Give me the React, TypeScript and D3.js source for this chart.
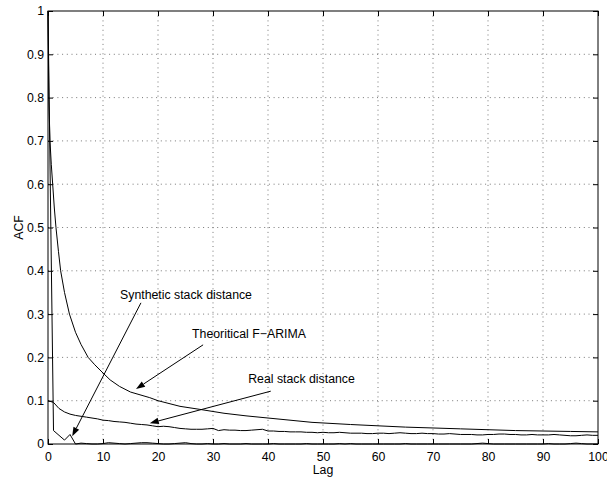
import * as d3 from "d3";
import React, { useEffect, useRef } from "react";

// lags 0..100
const lags = d3.range(0, 101);

// theoretical F-ARIMA ACF (smooth curve, read at these lags)
const theoLag = [0, 0.15, 0.36, 0.6, 0.85, 1.15, 1.45, 1.9, 2.3, 3, 3.9, 5, 6, 7.3, 8.5, 10, 11.3, 13, 15, 18.5, 20, 24, 27.6, 32, 36, 40, 44, 48, 55, 60, 65, 70, 75, 80, 85, 90, 95, 100];
const theoAcf = [1, 0.8, 0.7, 0.645, 0.6, 0.545, 0.5, 0.445, 0.4, 0.35, 0.3, 0.258, 0.23, 0.2, 0.183, 0.164, 0.148, 0.133, 0.12, 0.107, 0.1, 0.087, 0.08, 0.071, 0.065, 0.06, 0.055, 0.05, 0.045, 0.042, 0.039, 0.037, 0.035, 0.033, 0.031, 0.030, 0.029, 0.028];

// real stack distance ACF
const realAcf = [
  0.100, 0.096, 0.082, 0.074, 0.069, 0.066, 0.064, 0.062, 0.060, 0.058,
  0.055, 0.054, 0.052, 0.051, 0.050, 0.048, 0.046, 0.045, 0.044, 0.042,
  0.040, 0.041, 0.040, 0.038, 0.036, 0.035, 0.034, 0.034, 0.034, 0.035,
  0.036, 0.031, 0.033, 0.032, 0.032, 0.031, 0.031, 0.032, 0.033, 0.034,
  0.030, 0.030, 0.029, 0.029, 0.028, 0.028, 0.028, 0.027, 0.027, 0.026,
  0.027, 0.026, 0.026, 0.027, 0.026, 0.025, 0.025, 0.025, 0.024, 0.024,
  0.025, 0.025, 0.024, 0.025, 0.026, 0.025, 0.024, 0.024, 0.025, 0.024,
  0.024, 0.023, 0.023, 0.024, 0.023, 0.022, 0.022, 0.022, 0.021, 0.021,
  0.022, 0.022, 0.023, 0.023, 0.022, 0.022, 0.021, 0.021, 0.022, 0.021,
  0.021, 0.021, 0.022, 0.021, 0.020, 0.019, 0.019, 0.020, 0.021, 0.020,
  0.020,
];

// synthetic stack distance ACF
const synthAcf = [
  1.000, 0.031, 0.020, 0.009, 0.022, 0.000, 0.002, 0.001, 0.000, 0.000,
  0.001, 0.003, 0.002, 0.001, 0.000, 0.001, 0.002, 0.003, 0.003, 0.002,
  0.001, 0.000, 0.000, 0.001, 0.002, 0.003, 0.001, 0.000, 0.000, 0.001,
  0.000, 0.000, 0.001, 0.000, 0.000, 0.000, 0.001, 0.000, 0.000, 0.000,
  0.000, 0.001, 0.000, 0.000, 0.000, 0.000, 0.000, 0.001, 0.000, 0.000,
  0.000, 0.000, 0.000, 0.001, 0.000, 0.001, 0.000, 0.000, 0.000, 0.000,
  0.000, 0.000, 0.000, 0.000, 0.000, 0.001, 0.000, 0.000, 0.000, 0.000,
  0.000, 0.000, 0.000, 0.000, 0.000, 0.000, 0.000, 0.000, 0.001, 0.002,
  0.001, 0.000, 0.000, 0.000, 0.000, 0.000, 0.000, 0.000, 0.000, 0.000,
  0.000, 0.001, 0.000, 0.000, 0.000, 0.001, 0.002, 0.001, 0.000, 0.000,
  0.000,
];

const xTicks = [0, 10, 20, 30, 40, 50, 60, 70, 80, 90, 100];
const yTicks = [0, 0.1, 0.2, 0.3, 0.4, 0.5, 0.6, 0.7, 0.8, 0.9, 1];

// annotations: text, text anchor (lag, acf), arrow tail, arrow tip
const notes = [
  { text: "Synthetic stack distance", tx: 13.1, ty: 0.335, x0: 16.9, y0: 0.326, x1: 4.4, y1: 0.018 },
  { text: "Theoritical F\u2212ARIMA", tx: 26.2, ty: 0.245, x0: 28.2, y0: 0.229, x1: 16.0, y1: 0.127 },
  { text: "Real stack distance", tx: 36.4, ty: 0.141, x0: 40.5, y0: 0.122, x1: 18.5, y1: 0.048 },
];

const App = () => {
  const ref = useRef<SVGSVGElement>(null);

  useEffect(() => {
    const svg = d3.select(ref.current);
    svg.selectAll("*").remove();

    const width = 607;
    const height = 477;
    const margin = { top: 11, right: 9, bottom: 33, left: 48 };
    const innerWidth = width - margin.left - margin.right;
    const innerHeight = height - margin.top - margin.bottom;
    const font = "'Liberation Sans', Arial, Helvetica, sans-serif";
    const fs = 12.3;

    const x = d3.scaleLinear().domain([0, 100]).range([0, innerWidth]);
    const y = d3.scaleLinear().domain([0, 1]).range([innerHeight, 0]);

    const g = svg.append("g").attr("transform", `translate(${margin.left},${margin.top})`);

    // dotted grid
    g.selectAll(".gx")
      .data(xTicks.slice(1, -1))
      .enter()
      .append("line")
      .attr("x1", (d) => x(d))
      .attr("x2", (d) => x(d))
      .attr("y1", 0)
      .attr("y2", innerHeight)
      .attr("stroke", "#555")
      .attr("stroke-width", 0.8)
      .attr("stroke-dasharray", "1,3.7");
    g.selectAll(".gy")
      .data(yTicks.slice(1, -1))
      .enter()
      .append("line")
      .attr("x1", 0)
      .attr("x2", innerWidth)
      .attr("y1", (d) => y(d))
      .attr("y2", (d) => y(d))
      .attr("stroke", "#555")
      .attr("stroke-width", 0.8)
      .attr("stroke-dasharray", "1,3.7");

    // axes with inward ticks
    const tickStyle = (sel: any) => {
      sel.select(".domain").remove();
      sel.selectAll("text").attr("font-family", font).attr("font-size", fs).attr("fill", "#000");
      sel.selectAll("line").attr("stroke", "#000");
    };
    g.append("g")
      .attr("transform", `translate(0,${innerHeight})`)
      .call(d3.axisBottom(x).tickValues(xTicks).tickSizeInner(-5).tickPadding(8).tickFormat(d3.format("d")))
      .call(tickStyle);
    g.append("g")
      .call(d3.axisTop(x).tickValues(xTicks).tickSizeInner(-5).tickFormat(() => ""))
      .call(tickStyle);
    g.append("g")
      .call(d3.axisLeft(y).tickValues(yTicks).tickSizeInner(-5).tickPadding(4).tickFormat((d: any) => d3.format("")(+d.toFixed(1))))
      .call(tickStyle);
    g.append("g")
      .attr("transform", `translate(${innerWidth},0)`)
      .call(d3.axisRight(y).tickValues(yTicks).tickSizeInner(-5).tickFormat(() => ""))
      .call(tickStyle);

    // frame
    g.append("rect")
      .attr("width", innerWidth)
      .attr("height", innerHeight)
      .attr("fill", "none")
      .attr("stroke", "#000")
      .attr("stroke-width", 1);

    const line = d3
      .line<[number, number]>()
      .x((d) => x(d[0]))
      .y((d) => y(d[1]));

    const series: [number, number][][] = [
      theoLag.map((l, i) => [l, theoAcf[i]]),
      lags.map((l, i) => [l, realAcf[i]]),
      lags.map((l, i) => [l, synthAcf[i]]),
    ];
    g.selectAll(".curve")
      .data(series)
      .enter()
      .append("path")
      .attr("d", (d) => line(d))
      .attr("fill", "none")
      .attr("stroke", "#000")
      .attr("stroke-width", 1);

    // annotations
    notes.forEach((n) => {
      g.append("text")
        .attr("x", x(n.tx))
        .attr("y", y(n.ty))
        .attr("font-family", font)
        .attr("font-size", fs)
        .text(n.text);
      const px0 = x(n.x0), py0 = y(n.y0), px1 = x(n.x1), py1 = y(n.y1);
      const ang = Math.atan2(py1 - py0, px1 - px0);
      const len = 9, half = 3.2;
      const bx = px1 - len * Math.cos(ang), by = py1 - len * Math.sin(ang);
      g.append("line")
        .attr("x1", px0).attr("y1", py0)
        .attr("x2", bx).attr("y2", by)
        .attr("stroke", "#000").attr("stroke-width", 1);
      g.append("polygon")
        .attr("points", [
          [px1, py1],
          [bx + half * Math.sin(ang), by - half * Math.cos(ang)],
          [bx - half * Math.sin(ang), by + half * Math.cos(ang)],
        ].map((p) => p.join(",")).join(" "))
        .attr("fill", "#000");
    });

    // axis labels
    svg.append("text")
      .attr("x", margin.left + innerWidth / 2)
      .attr("y", 474)
      .attr("text-anchor", "middle")
      .attr("font-family", font)
      .attr("font-size", fs)
      .text("Lag");
    svg.append("text")
      .attr("transform", `translate(22.5,${margin.top + innerHeight / 2}) rotate(-90)`)
      .attr("text-anchor", "middle")
      .attr("font-family", font)
      .attr("font-size", fs)
      .text("ACF");
  }, []);

  return (
    <svg
      ref={ref}
      width={607}
      height={477}
      style={{ position: "absolute", left: 0, top: 0, background: "#fff" }}
    />
  );
};

export default App;
